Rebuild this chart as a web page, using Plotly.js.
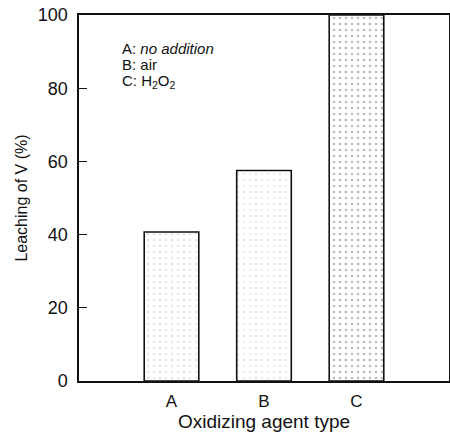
<!DOCTYPE html>
<html><head><meta charset="utf-8">
<script src="https://cdn.plot.ly/plotly-3.0.1.min.js"></script>
<style>body{margin:0;background:#fff}#c{width:450px;height:436px}</style>
</head><body><div id="c"></div>
<script>
const categories = ['A', 'B', 'C'];
const leaching = [40.7, 57.5, 100];
const legendLines = ['A: <i>no addition</i>', 'B: air', 'C: H<sub>2</sub>O<sub>2</sub>'];
const yTicks = [0, 20, 40, 60, 80, 100];

const trace = {
  type: 'bar', x: [0, 1, 2], y: leaching, width: 0.59,
  marker: {
    color: '#ffffff',
    line: {color: '#111', width: 1.6},
    pattern: {shape: '.', fgcolor: '#bbb', bgcolor: '#fff', size: 6, solidity: [0.05, 0.04, 0.15]}
  },
  hoverinfo: 'none'
};
const annotations = legendLines.map((t, i) => ({
  xref: 'paper', yref: 'paper', x: 0.11, y: 0.908 - i * 0.0445, xanchor: 'left', yanchor: 'middle',
  text: t, showarrow: false, font: {family: 'Liberation Sans, Arial', size: 15, color: '#111'}
}));
const layout = {
  width: 450, height: 436,
  margin: {l: 79, r: 1, t: 15, b: 55},
  paper_bgcolor: '#fff', plot_bgcolor: '#fff',
  showlegend: false,
  font: {family: 'Liberation Sans, Arial', color: '#111'},
  xaxis: {
    range: [-1, 3], tickvals: [0, 1, 2], ticktext: categories,
    showline: true, mirror: true, linecolor: '#111', linewidth: 1.6,
    showgrid: false, zeroline: false, ticks: '',
    tickfont: {size: 17}, ticklabelstandoff: 4,
    title: {text: 'Oxidizing agent type', font: {size: 19}, standoff: 3}
  },
  yaxis: {
    range: [0, 100], tickvals: yTicks,
    showline: true, mirror: true, linecolor: '#111', linewidth: 1.6,
    showgrid: false, zeroline: false, ticks: 'inside', ticklen: 8, tickcolor: '#111', tickwidth: 1.3,
    tickfont: {size: 18}, ticklabelstandoff: 6,
    title: {text: 'Leaching of V (%)', font: {size: 16}, standoff: 6}
  },
  annotations: annotations
};
Plotly.newPlot('c', [trace], layout, {displayModeBar: false, staticPlot: true});
</script></body></html>
